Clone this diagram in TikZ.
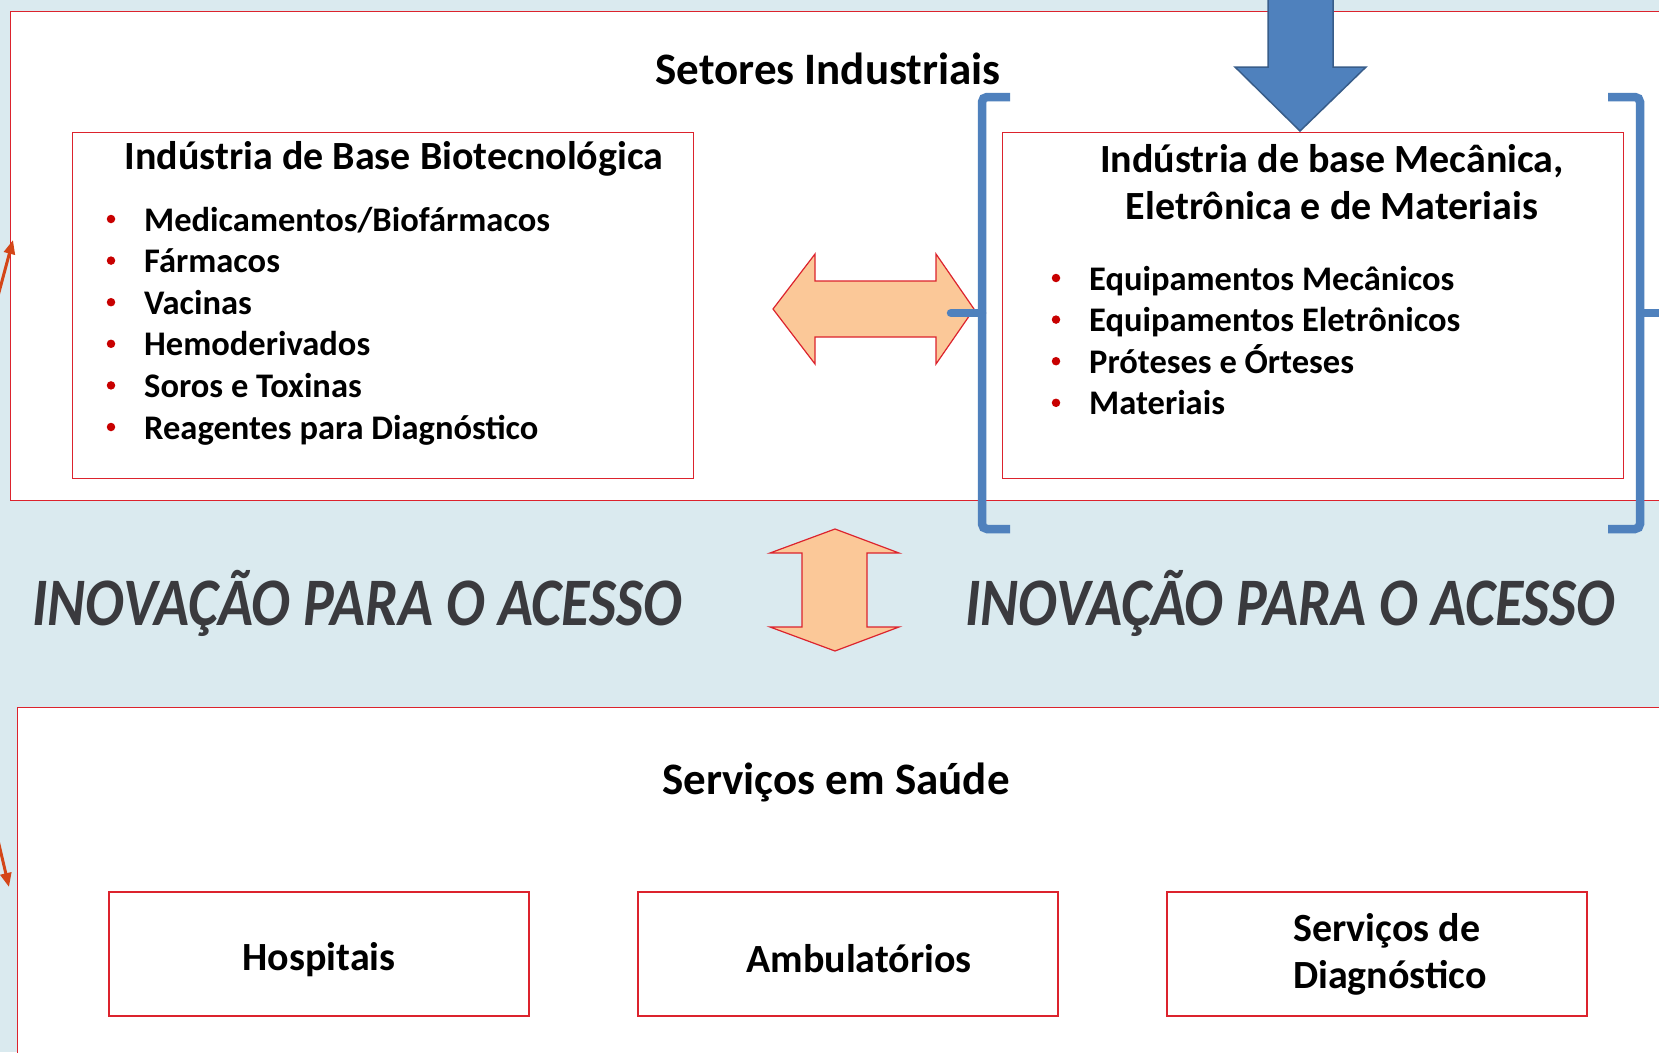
\documentclass[tikz,border=0pt]{standalone}
\usepackage{fontspec}
\setmainfont{Carlito}
\usepackage{xcolor}
\usetikzlibrary{arrows.meta}

\definecolor{boxred}{RGB}{220,35,45}
\definecolor{sky}{RGB}{218,234,239}
\definecolor{arrowblue}{RGB}{79,129,189}
\definecolor{arrowedge}{RGB}{56,93,138}
\definecolor{peach}{RGB}{251,200,152}
\definecolor{accessgray}{RGB}{58,58,62}
\definecolor{linkred}{RGB}{212,70,24}
\definecolor{dotred}{RGB}{200,0,0}

\tikzset{
  redbox/.style={draw=boxred, line width=1.4pt, fill=white, inner sep=0pt},
  bigtitle/.style={font=\fontsize{45}{54}\selectfont\bfseries},
  boxtitle/.style={font=\fontsize{40}{47}\selectfont\bfseries, align=center},
  svclabel/.style={font=\fontsize{40}{47}\selectfont\bfseries, align=left, inner sep=0pt},
  itemtxt/.style={font=\fontsize{34.5}{40}\selectfont\bfseries, anchor=base west, inner sep=0pt},
  reddot/.style={circle, fill=dotred, inner sep=0pt, minimum size=8.5pt},
  accesstxt/.style={font=\fontsize{68}{80}\selectfont\bfseries\itshape, text=accessgray, anchor=west, inner sep=0pt},
  peacharrow/.style={fill=peach, draw=boxred, line width=1.2pt, line join=miter},
  bracket/.style={draw=arrowblue, line width=8.5pt, rounded corners=5pt}
}

\begin{document}
\begin{tikzpicture}[x=1pt, y=-1pt]
    \useasboundingbox (0,0) rectangle (1659,1052);
    \clip (0,0) rectangle (1659,1052);
    \fill[sky] (0,0) rectangle (1659,1052);

    % industry sectors
    \node[redbox, anchor=north west, minimum width=1690, minimum height=489] (ind) at (10,11) {};
    \node[bigtitle] (indtitle) at (828,69) {Setores Industriais};

    \node[redbox, anchor=north west, minimum width=621, minimum height=346] (bio) at (72,132) {};
    \node[boxtitle] (biotitle) at (394,159) {Indústria de Base Biotecnológica};
    \foreach \txt [count=\i] in {Medicamentos/Biofármacos, Fármacos, Vacinas, Hemoderivados, Soros e Toxinas, Reagentes para Diagnóstico}{
        \node[reddot] (biodot\i) at (111,{177.4+41.6*\i}) {};
        \node[itemtxt] (bioitem\i) at (144,{189.4+41.6*\i}) {\txt};
    }

    \node[redbox, anchor=north west, minimum width=621, minimum height=346] (mec) at (1002,132) {};
    \node[boxtitle] (mectitle) at (1332,182) {Indústria de base Mecânica,\\Eletrônica e de Materiais};
    \foreach \txt [count=\i] in {Equipamentos Mecânicos, Equipamentos Eletrônicos, Próteses e Órteses, Materiais}{
        \node[reddot] (mecdot\i) at (1056,{236.4+41.6*\i}) {};
        \node[itemtxt] (mecitem\i) at (1089,{248.4+41.6*\i}) {\txt};
    }

    % peach double arrows
    \draw[peacharrow] (773,309)--(815,254)--(815,281)--(936,281)--(936,254)--(974,309)
        --(936,364)--(936,337)--(815,337)--(815,364)--cycle;
    \draw[peacharrow] (835,529)--(899,553)--(867,553)--(867,627)--(899,627)--(835,651)
        --(770,627)--(802,627)--(802,553)--(770,553)--cycle;

    % blue bracket and arrow
    \draw[bracket] (1010,97)--(982,97)--(982,529)--(1010,529);
    \draw[bracket, line cap=round] (982,313)--(951,313);
    \draw[bracket] (1608,97)--(1640,97)--(1640,529)--(1608,529);
    \draw[bracket] (1640,313)--(1675,313);
    \filldraw[fill=arrowblue, draw=arrowedge, line width=1.5pt, line join=miter]
        (1268,-10)--(1268,67)--(1235,67)--(1300,131)--(1366,67)--(1333,67)--(1333,-10)--cycle;

    \node[accesstxt] (accleft) at (32,603) {\scalebox{0.85}[1]{INOVAÇÃO PARA O ACESSO}};
    \node[accesstxt] (accright) at (965,603) {\scalebox{0.85}[1]{INOVAÇÃO PARA O ACESSO}};

    % health services
    \node[redbox, anchor=north west, minimum width=1700, minimum height=400] (svc) at (17,707) {};
    \node[bigtitle] (svctitle) at (836,782) {Serviços em Saúde};
    \node[redbox, minimum width=420, minimum height=124] (hosp) at (319,954) {};
    \node[redbox, minimum width=420, minimum height=124] (amb) at (848,954) {};
    \node[redbox, minimum width=420, minimum height=124] (diag) at (1377,954) {};
    \node[svclabel] (hosplabel) at ([yshift=-6pt]hosp.center) {Hospitais};
    \node[svclabel] (amblabel) at ([xshift=11pt,yshift=-5pt]amb.center) {Ambulatórios};
    \node[svclabel] (diaglabel) at ([xshift=13pt]diag.center) {Serviços de\\Diagnóstico};

    % links leaving the picture on the left
    \coordinate (upfrom) at (-2,296);
    \coordinate (upto) at (13,240);
    \coordinate (downfrom) at (-3,836);
    \coordinate (downto) at (9,887);
    \draw[linkred, line width=3pt, -{Triangle[length=14pt,width=11pt]}] (upfrom)--(upto);
    \draw[linkred, line width=3pt, -{Triangle[length=14pt,width=11pt]}] (downfrom)--(downto);

\end{tikzpicture}
\end{document}
